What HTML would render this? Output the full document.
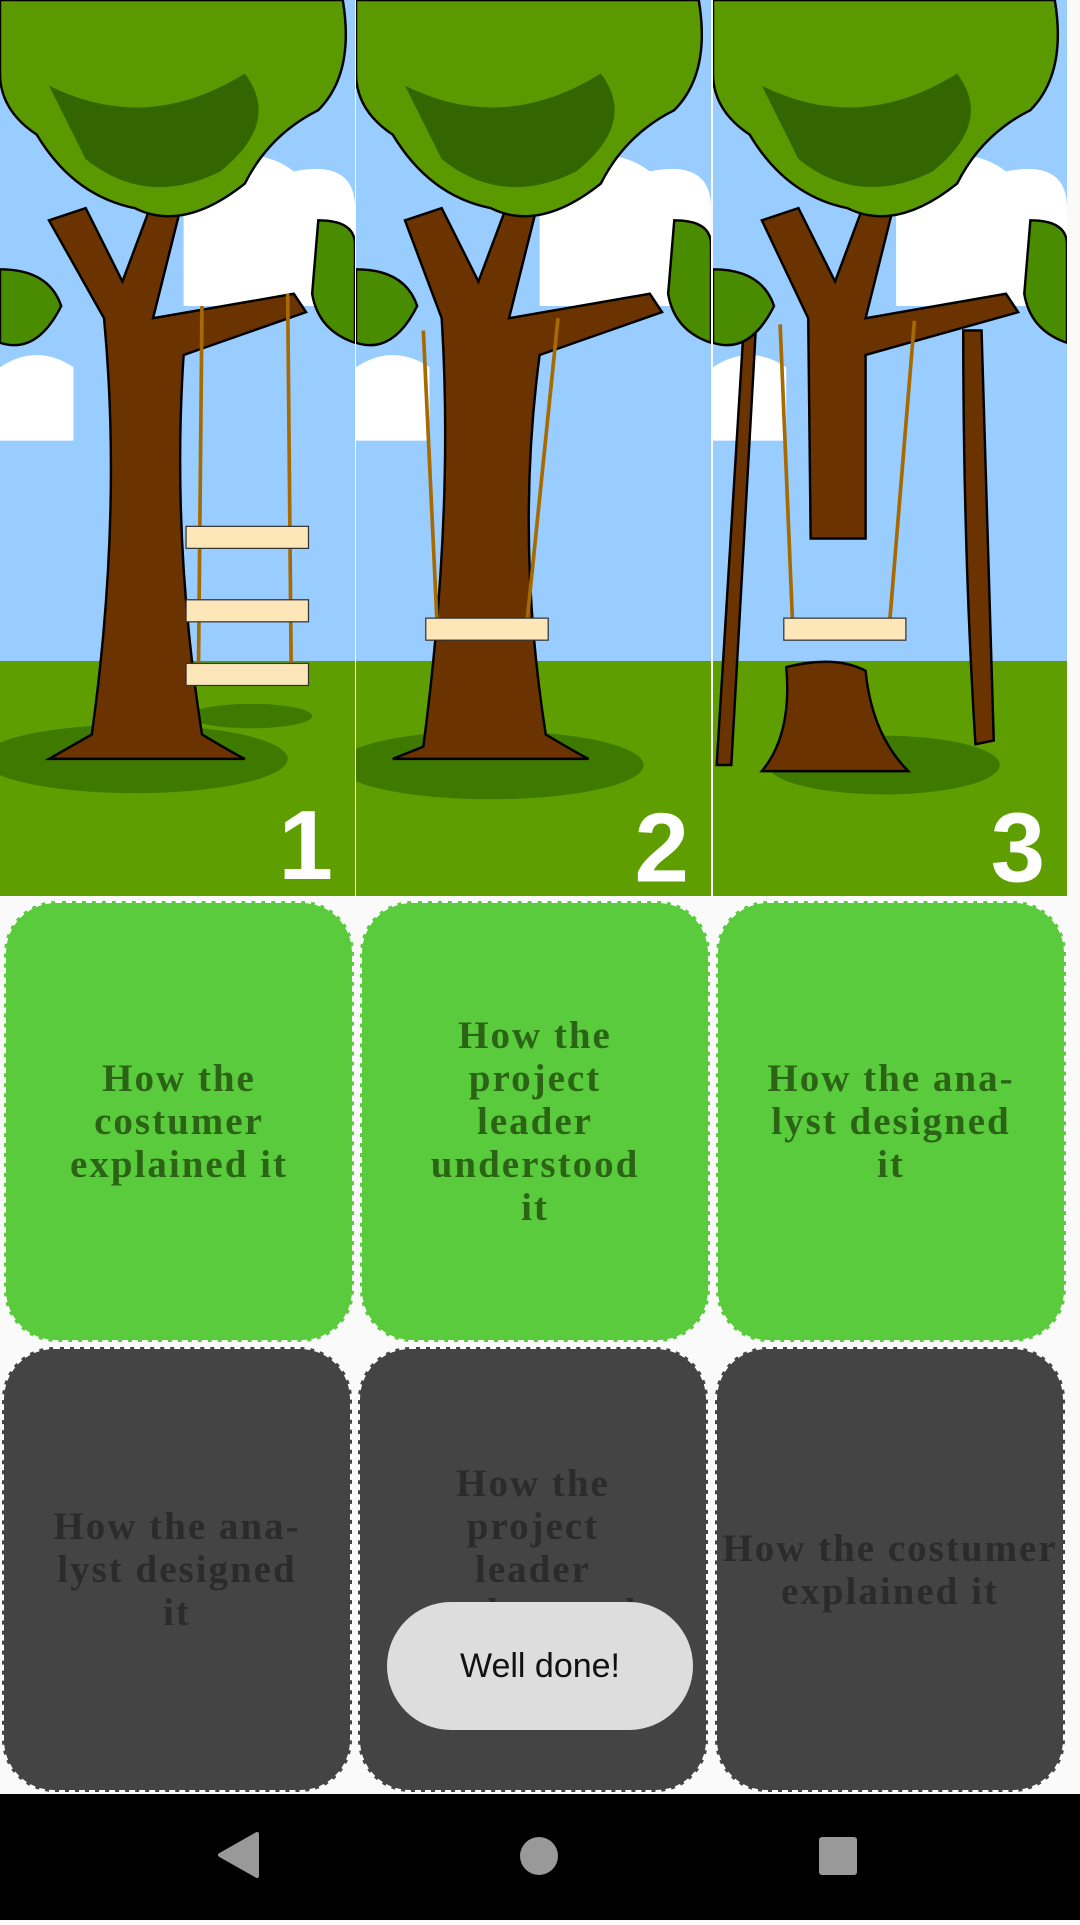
<!DOCTYPE html>
<html><head><meta charset="utf-8"><style>
html,body{margin:0;padding:0;}
body{width:1080px;height:1920px;background:#fafafa;position:relative;overflow:hidden;font-family:"Liberation Serif",serif;}
.p{position:absolute;top:0;width:355px;height:896px;}
.c{position:absolute;width:350px;border:2.5px dashed #fff;border-radius:52px;box-sizing:border-box;display:flex;align-items:center;justify-content:center;text-align:center;font-weight:bold;font-size:39px;line-height:43px;letter-spacing:2px;white-space:nowrap}
.g{background:#5acb3c;color:#2c6416;top:901px;height:441px}
.d{background:#444;color:#2b2b2b;top:1347px;height:445px}
.nav{position:absolute;left:0;top:1794px;width:1080px;height:126px;background:#000}
.toast{position:absolute;left:387px;top:1602px;width:306px;height:128px;border-radius:64px;background:#ddd;color:#111;font-family:"Liberation Sans",sans-serif;font-size:34px;display:flex;align-items:center;justify-content:center}
</style></head><body>

<svg class="p" style="left:0" viewBox="0 0 290 732" preserveAspectRatio="none">
<rect width="290" height="732" fill="#9cf"/>
<path d="M0 300 Q30 280 60 300 L60 360 L0 360Z M150 150 Q200 110 240 140 Q290 130 290 170 L290 250 L150 250Z" fill="#fff"/>
<rect y="540" width="290" height="192" fill="#5f9e00"/>
<ellipse cx="110" cy="620" rx="125" ry="28" fill="#3f7a00"/>
<ellipse cx="205" cy="585" rx="50" ry="10" fill="#3f7a00"/>
<path d="M75 600 Q100 420 85 260 L40 180 L70 170 L100 230 L130 150 L150 160 L125 260 L240 240 L250 255 L150 290 Q140 440 165 600 Q190 615 200 620 L40 620 Z" fill="#6b3300" stroke="#000" stroke-width="2"/>
<path d="M0 0 L280 0 Q290 60 260 90 Q220 110 200 150 Q150 190 110 170 Q60 160 30 110 Q0 90 0 60Z" fill="#5a9a00" stroke="#000" stroke-width="2"/>
<path d="M40 70 Q120 110 200 60 Q230 100 180 140 Q120 170 70 130Z" fill="#336600"/>
<path d="M0 220 Q40 220 50 250 Q30 290 0 280Z M260 180 Q290 180 290 200 L290 280 Q260 270 255 240Z" fill="#4a8c00" stroke="#000" stroke-width="2"/>
<line x1="165" y1="250" x2="162" y2="560" stroke="#a66a00" stroke-width="3"/><line x1="235" y1="240" x2="238" y2="560" stroke="#a66a00" stroke-width="3"/>
<rect x="152" y="430" width="100" height="18" fill="#fde6b8" stroke="#333"/><rect x="152" y="490" width="100" height="18" fill="#fde6b8" stroke="#333"/><rect x="152" y="542" width="100" height="18" fill="#fde6b8" stroke="#333"/>
<text x="272" y="718" fill="#fff" font-family="Liberation Sans" font-weight="bold" font-size="80" text-anchor="end">1</text>
</svg>

<svg class="p" style="left:356px" viewBox="0 0 290 732" preserveAspectRatio="none">
<rect width="290" height="732" fill="#9cf"/>
<path d="M0 300 Q30 280 60 300 L60 360 L0 360Z M150 150 Q200 110 240 140 Q290 130 290 170 L290 250 L150 250Z" fill="#fff"/>
<rect y="540" width="290" height="192" fill="#5f9e00"/>
<ellipse cx="110" cy="625" rx="125" ry="28" fill="#3f7a00"/>
<path d="M55 610 Q80 420 70 260 L40 180 L70 170 L100 230 L130 150 L150 160 L125 260 L240 240 L250 255 L150 290 Q130 440 155 600 Q180 615 190 620 L30 620 Z" fill="#6b3300" stroke="#000" stroke-width="2"/>
<path d="M0 0 L280 0 Q290 60 260 90 Q220 110 200 150 Q150 190 110 170 Q60 160 30 110 Q0 90 0 60Z" fill="#5a9a00" stroke="#000" stroke-width="2"/>
<path d="M40 70 Q120 110 200 60 Q230 100 180 140 Q120 170 70 130Z" fill="#336600"/>
<path d="M0 220 Q40 220 50 250 Q30 290 0 280Z M260 180 Q290 180 290 200 L290 280 Q260 270 255 240Z" fill="#4a8c00" stroke="#000" stroke-width="2"/>
<line x1="55" y1="270" x2="66" y2="505" stroke="#a66a00" stroke-width="3"/><line x1="165" y1="260" x2="140" y2="505" stroke="#a66a00" stroke-width="3"/>
<rect x="57" y="505" width="100" height="18" fill="#fde6b8" stroke="#333"/>
<text x="272" y="720" fill="#fff" font-family="Liberation Sans" font-weight="bold" font-size="80" text-anchor="end">2</text>
</svg>

<svg class="p" style="left:713px;width:354px" viewBox="0 0 290 732" preserveAspectRatio="none">
<rect width="290" height="732" fill="#9cf"/>
<path d="M0 300 Q30 280 60 300 L60 360 L0 360Z M150 150 Q200 110 240 140 Q290 130 290 170 L290 250 L150 250Z" fill="#fff"/>
<rect y="540" width="290" height="192" fill="#5f9e00"/>
<ellipse cx="140" cy="625" rx="95" ry="24" fill="#3f7a00"/>
<path d="M60 545 Q100 535 125 548 Q130 600 160 630 L40 630 Q65 600 60 545Z" fill="#6b3300" stroke="#000" stroke-width="2"/>
<path d="M80 440 L78 260 L40 180 L70 170 L100 230 L130 150 L150 160 L125 260 L240 240 L250 255 L125 290 L125 440Z" fill="#6b3300" stroke="#000" stroke-width="2"/>
<path d="M25 270 L35 270 L15 625 L3 625Z M205 270 L220 270 Q225 450 230 605 L215 608 Q205 450 205 270Z" fill="#6b3300" stroke="#000" stroke-width="2"/>
<path d="M0 0 L280 0 Q290 60 260 90 Q220 110 200 150 Q150 190 110 170 Q60 160 30 110 Q0 90 0 60Z" fill="#5a9a00" stroke="#000" stroke-width="2"/>
<path d="M40 70 Q120 110 200 60 Q230 100 180 140 Q120 170 70 130Z" fill="#336600"/>
<path d="M0 220 Q40 220 50 250 Q30 290 0 280Z M260 180 Q290 180 290 200 L290 280 Q260 270 255 240Z" fill="#4a8c00" stroke="#000" stroke-width="2"/>
<line x1="55" y1="265" x2="65" y2="505" stroke="#a66a00" stroke-width="3"/><line x1="165" y1="262" x2="145" y2="505" stroke="#a66a00" stroke-width="3"/>
<rect x="58" y="505" width="100" height="18" fill="#fde6b8" stroke="#333"/>
<text x="272" y="720" fill="#fff" font-family="Liberation Sans" font-weight="bold" font-size="80" text-anchor="end">3</text>
</svg>

<div class="c g" style="left:4px">How the<br>costumer<br>explained it</div>
<div class="c g" style="left:360px">How the<br>project<br>leader<br>understood<br>it</div>
<div class="c g" style="left:716px">How the ana-<br>lyst designed<br>it</div>
<div class="c d" style="left:2px">How the ana-<br>lyst designed<br>it</div>
<div class="c d" style="left:358px">How the<br>project<br>leader<br>understood<br>it</div>
<div class="c d" style="left:715px;letter-spacing:2px">How the costumer<br>explained it</div>

<div class="toast">Well done!</div>

<div class="nav">
<svg width="1080" height="126" viewBox="0 0 1080 126">
<path d="M257 40 L257 82 L220 61Z" fill="#999" stroke="#999" stroke-width="4" stroke-linejoin="round"/>
<circle cx="539" cy="62" r="19" fill="#999"/>
<rect x="819" y="43" width="38" height="38" rx="3" fill="#999"/>
</svg>
</div>
</body></html>
